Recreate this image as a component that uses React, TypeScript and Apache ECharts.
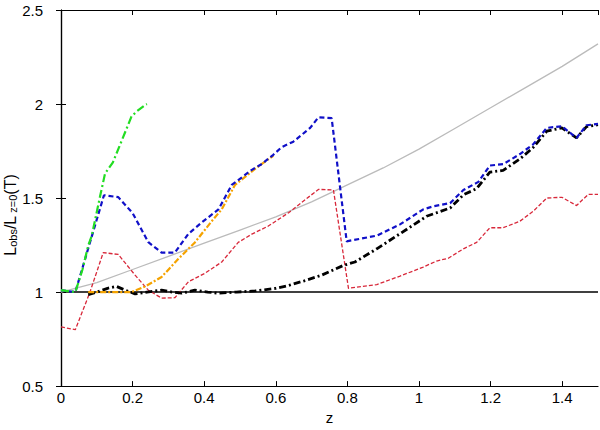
import React, { useEffect, useRef } from "react";
import * as echarts from "echarts";

// tick labels
const xTicks = [0, 0.2, 0.4, 0.6, 0.8, 1, 1.2, 1.4];
const yTicks = [0.5, 1, 1.5, 2, 2.5];

// gray solid reference curve
const grayZ = [0, 0.1, 0.2, 0.3, 0.4, 0.5, 0.6, 0.7, 0.8, 0.9, 1.0, 1.1, 1.2, 1.3, 1.4, 1.5];
const grayV = [1.0, 1.05, 1.12, 1.19, 1.26, 1.33, 1.4, 1.48, 1.57, 1.66, 1.76, 1.87, 1.98, 2.09, 2.2, 2.32];

// blue dashed
const blueZ = [0, 0.02, 0.04, 0.12, 0.16, 0.2, 0.244, 0.281, 0.318, 0.356, 0.393, 0.44, 0.477, 0.533, 0.56, 0.593, 0.616, 0.649, 0.696, 0.719, 0.756, 0.798, 0.882, 0.947, 1.012, 1.04, 1.087, 1.124, 1.166, 1.198, 1.235, 1.282, 1.319, 1.357, 1.399, 1.44, 1.468, 1.5];
const blueV = [1.01, 1.005, 1.0, 1.515, 1.505, 1.42, 1.265, 1.21, 1.21, 1.31, 1.37, 1.44, 1.57, 1.65, 1.68, 1.73, 1.77, 1.8, 1.873, 1.929, 1.925, 1.27, 1.3, 1.36, 1.44, 1.456, 1.473, 1.543, 1.586, 1.673, 1.68, 1.734, 1.786, 1.873, 1.882, 1.82, 1.887, 1.894];

// red dashed
const redZ = [0, 0.04, 0.08, 0.118, 0.16, 0.207, 0.244, 0.281, 0.318, 0.356, 0.402, 0.449, 0.495, 0.533, 0.579, 0.635, 0.719, 0.761, 0.803, 0.882, 0.947, 1.012, 1.049, 1.082, 1.124, 1.161, 1.198, 1.235, 1.282, 1.319, 1.357, 1.399, 1.44, 1.473, 1.5];
const redV = [0.815, 0.8, 0.995, 1.21, 1.2, 1.09, 1.01, 0.968, 0.97, 1.055, 1.1, 1.16, 1.264, 1.308, 1.351, 1.421, 1.546, 1.543, 1.02, 1.04, 1.085, 1.133, 1.165, 1.18, 1.23, 1.264, 1.342, 1.342, 1.377, 1.43, 1.5, 1.504, 1.46, 1.52, 1.52];

// green dash-dot
const greenZ = [0, 0.02, 0.04, 0.06, 0.076, 0.086, 0.109, 0.123, 0.145, 0.16, 0.197, 0.211, 0.235, 0.24];
const greenV = [1.01, 1.005, 1.0, 1.12, 1.247, 1.3, 1.508, 1.63, 1.69, 1.76, 1.934, 1.96, 1.995, 2.0];

// orange dash-dot
const orangeZ = [0.076, 0.1, 0.15, 0.197, 0.235, 0.281, 0.328, 0.374, 0.421, 0.449, 0.486, 0.542, 0.56, 0.593];
const orangeV = [1.0, 1.0, 1.0, 1.0, 1.03, 1.08, 1.177, 1.264, 1.377, 1.44, 1.57, 1.655, 1.68, 1.725];

// black dash-dot
const blackZ = [0.076, 0.1, 0.13, 0.155, 0.18, 0.207, 0.24, 0.281, 0.31, 0.337, 0.374, 0.41, 0.44, 0.49, 0.542, 0.6, 0.635, 0.68, 0.728, 0.789, 0.821, 0.882, 0.966, 1.021, 1.087, 1.124, 1.161, 1.198, 1.235, 1.282, 1.319, 1.357, 1.399, 1.44, 1.468, 1.5];
const blackV = [0.986, 1.0, 1.02, 1.03, 1.01, 0.99, 1.0, 1.01, 1.0, 0.994, 1.01, 1.0, 0.994, 1.0, 1.006, 1.02, 1.035, 1.06, 1.09, 1.142, 1.16, 1.23, 1.334, 1.403, 1.447, 1.517, 1.55, 1.638, 1.647, 1.708, 1.769, 1.856, 1.873, 1.82, 1.88, 1.89];

// horizontal unity line
const unityZ = [0, 1.5];
const unityV = [1, 1];

const pairs = (z: number[], v: number[]) => z.map((x, i) => [x, v[i]]);

const FONT = "'Liberation Sans', Arial, sans-serif";

export default function App() {
  const ref = useRef<HTMLDivElement>(null);
  useEffect(() => {
    document.body.style.margin = "0";
    if (!ref.current) return;
    const chart = echarts.init(ref.current, null, { renderer: "svg" });
    const axisLine = { show: true, lineStyle: { color: "#000", width: 1.2 } };
    const tick = { show: true, inside: true, length: 5, lineStyle: { color: "#000", width: 1 } };
    const lineSeries = (
      name: string,
      z: number[],
      v: number[],
      color: string,
      width: number,
      type: any,
      z2: number
    ) => ({
      name,
      type: "line",
      data: pairs(z, v),
      showSymbol: false,
      symbol: "none",
      smooth: false,
      z: z2,
      lineStyle: { color, width, type, cap: "butt" },
    });
    chart.setOption({
      animation: false,
      backgroundColor: "#fff",
      grid: { left: 61, right: 2, top: 10, bottom: 37 },
      xAxis: [
        {
          type: "value",
          min: 0,
          max: 1.5,
          interval: 0.2,
          position: "bottom",
          name: "z",
          nameLocation: "middle",
          nameGap: 21,
          nameTextStyle: { fontFamily: FONT, fontSize: 15, color: "#000" },
          axisLine,
          axisTick: tick,
          splitLine: { show: false },
          axisLabel: {
            fontFamily: FONT,
            fontSize: 15,
            color: "#000",
            margin: 4,
            showMaxLabel: false,
            formatter: (v: number) => (xTicks.some((t) => Math.abs(t - v) < 1e-6) ? String(+v.toFixed(1)) : ""),
          },
        },
        {
          type: "value",
          min: 0,
          max: 1.5,
          interval: 0.2,
          position: "top",
          axisLine,
          axisTick: tick,
          axisLabel: { show: false },
          splitLine: { show: false },
        },
      ],
      yAxis: [
        {
          type: "value",
          min: 0.5,
          max: 2.5,
          interval: 0.5,
          position: "left",
          axisLine,
          axisTick: tick,
          splitLine: { show: false },
          axisLabel: {
            fontFamily: FONT,
            fontSize: 15,
            color: "#000",
            margin: 18,
            formatter: (v: number) => (yTicks.some((t) => Math.abs(t - v) < 1e-6) ? String(v) : ""),
          },
        },
        {
          type: "value",
          min: 0.5,
          max: 2.5,
          interval: 0.5,
          position: "right",
          axisLine,
          axisTick: tick,
          axisLabel: { show: false },
          splitLine: { show: false },
        },
      ],
      graphic: [
        {
          type: "text",
          x: 10,
          y: 215,
          rotation: Math.PI / 2,
          style: {
            text: "{m|L}{s|obs}{m|/L}{s| z=0}{m|(T)}",
            align: "center",
            verticalAlign: "middle",
            fill: "#000",
            rich: {
              m: { fontFamily: FONT, fontSize: 16, lineHeight: 16, verticalAlign: "top", fill: "#000" },
              s: {
                fontFamily: FONT,
                fontSize: 11,
                lineHeight: 11,
                padding: [8, 0, 0, 0],
                verticalAlign: "bottom",
                fill: "#000",
              },
            },
          },
        },
      ],
      series: [
        lineSeries("unity", unityZ, unityV, "#000", 1.5, "solid", 1),
        lineSeries("gray", grayZ, grayV, "#bbbbbb", 1.3, "solid", 2),
        lineSeries("red", redZ, redV, "#d8283a", 1.3, [4, 2], 3),
        lineSeries("black", blackZ, blackV, "#000", 2.8, [7, 3, 2, 3], 4),
        lineSeries("orange", orangeZ, orangeV, "#f5a300", 2.2, [6, 2, 2, 2], 5),
        lineSeries("blue", blueZ, blueV, "#1010c8", 2.2, [5, 3], 6),
        lineSeries("green", greenZ, greenV, "#22dd22", 2.2, [8, 3, 2, 3], 7),
      ],
    });
    return () => chart.dispose();
  }, []);
  return <div ref={ref} style={{ width: 600, height: 430 }} />;
}
